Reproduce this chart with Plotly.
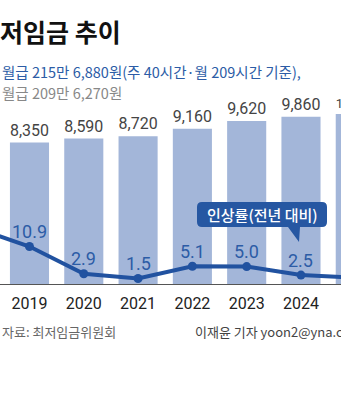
import plotly.graph_objects as go

# ---- data ----
years = [2018, 2019, 2020, 2021, 2022, 2023, 2024, 2025]
wage = [7530, 8350, 8590, 8720, 9160, 9620, 9860, 10030]
rate = [16.4, 10.9, 2.9, 1.5, 5.1, 5.0, 2.5, 1.7]
wage_labels = [f"{v:,}" for v in wage]
rate_labels = [f"{v:.1f}" for v in rate]

W, H = 341, 400
KR = "Noto Sans CJK KR"
NUM = "Roboto"

BAR_COLOR = "#a3b6d9"
LINE_COLOR = "#2152a0"
LABEL_BLUE = "#2c5ca6"

PLOT_TOP, PLOT_BOTTOM = 50, 284


def px(x):
    return x / W


def py(y):
    return 1 - y / H


fig = go.Figure()

fig.add_trace(go.Bar(
    x=years, y=wage, width=0.72, marker=dict(color=BAR_COLOR, line=dict(width=0)),
    text=wage_labels, textposition="outside", cliponaxis=True,
    outsidetextfont=dict(family=NUM, size=17, color="#444444"),
    hoverinfo="skip", yaxis="y",
))

fig.add_trace(go.Scatter(
    x=years, y=rate, mode="lines+markers", yaxis="y2",
    line=dict(color=LINE_COLOR, width=4),
    marker=dict(color=LINE_COLOR, size=9),
    cliponaxis=True, hoverinfo="skip",
))

# callout box with tail
x0, y0, x1, y1, r = 197, 202, 327, 227, 5
tail = [(300, y1), (299, 242), (288, y1)]
path = (
    f"M {px(x0 + r)} {py(y0)} L {px(x1 - r)} {py(y0)} "
    f"Q {px(x1)} {py(y0)} {px(x1)} {py(y0 + r)} "
    f"L {px(x1)} {py(y1 - r)} Q {px(x1)} {py(y1)} {px(x1 - r)} {py(y1)} "
    f"L {px(tail[0][0])} {py(tail[0][1])} L {px(tail[1][0])} {py(tail[1][1])} "
    f"L {px(tail[2][0])} {py(tail[2][1])} "
    f"L {px(x0 + r)} {py(y1)} Q {px(x0)} {py(y1)} {px(x0)} {py(y1 - r)} "
    f"L {px(x0)} {py(y0 + r)} Q {px(x0)} {py(y0)} {px(x0 + r)} {py(y0)} Z"
)
shapes = [dict(type="path", xref="paper", yref="paper", path=path,
               fillcolor="#2657a2", line=dict(width=0), layer="above")]

annotations = [
    dict(text="최저임금 추이", x=px(-25), y=py(31), xanchor="left", yanchor="middle",
         showarrow=False, xref="paper", yref="paper",
         font=dict(family=KR, size=25, color="#111111", weight=700)),
    dict(text="월급 215만 6,880원(주 40시간·월 209시간 기준),", x=px(0), y=py(71),
         xanchor="left", yanchor="middle", showarrow=False, xref="paper", yref="paper",
         font=dict(family=KR, size=14.5, color="#2c5ca6")),
    dict(text="월급 209만 6,270원", x=px(0), y=py(92),
         xanchor="left", yanchor="middle", showarrow=False, xref="paper", yref="paper",
         font=dict(family=KR, size=14.5, color="#888888")),
    dict(text="인상률(전년 대비)", x=px((x0 + x1) / 2), y=py((y0 + y1) / 2),
         xanchor="center", yanchor="middle", showarrow=False, xref="paper", yref="paper",
         font=dict(family=KR, size=15, color="white", weight=500)),
    dict(text="자료: 최저임금위원회", x=px(0), y=py(331),
         xanchor="left", yanchor="middle", showarrow=False, xref="paper", yref="paper",
         font=dict(family=KR, size=13, color="#666666")),
    dict(text="이재윤 기자 yoon2@yna.co.kr", x=px(193), y=py(331),
         xanchor="left", yanchor="middle", showarrow=False, xref="paper", yref="paper",
         font=dict(family=KR, size=13, color="#444444")),
]

# rate labels placed through the y2 data scale, a fixed offset above each point
for yr, v, lab in zip(years, rate, rate_labels):
    annotations.append(dict(
        text=lab, x=yr, y=v, xref="x", yref="y2", xanchor="center", yanchor="middle",
        yshift=15, showarrow=False,
        font=dict(family=NUM, size=18, color=LABEL_BLUE)))

fig.update_layout(
    width=W, height=H, margin=dict(l=0, r=0, t=0, b=0),
    paper_bgcolor="white", plot_bgcolor="rgba(0,0,0,0)",
    showlegend=False, bargap=0.28,
    xaxis=dict(range=[2018.457, 2024.737], tickvals=years, ticktext=[str(y) for y in years],
               showgrid=False, zeroline=False, showline=True, linecolor="#555555", linewidth=1,
               ticks="", ticklabelstandoff=5,
               tickfont=dict(family=NUM, size=16, color="#222222"), domain=[0, 1]),
    yaxis=dict(range=[0, (PLOT_BOTTOM - PLOT_TOP) / 0.01695],
               domain=[1 - PLOT_BOTTOM / H, 1 - PLOT_TOP / H], visible=False),
    yaxis2=dict(range=[-0.12, -0.12 + (PLOT_BOTTOM - PLOT_TOP) / 3.4], overlaying="y", visible=False),
    shapes=shapes, annotations=annotations,
)

fig.write_html("out.html")
